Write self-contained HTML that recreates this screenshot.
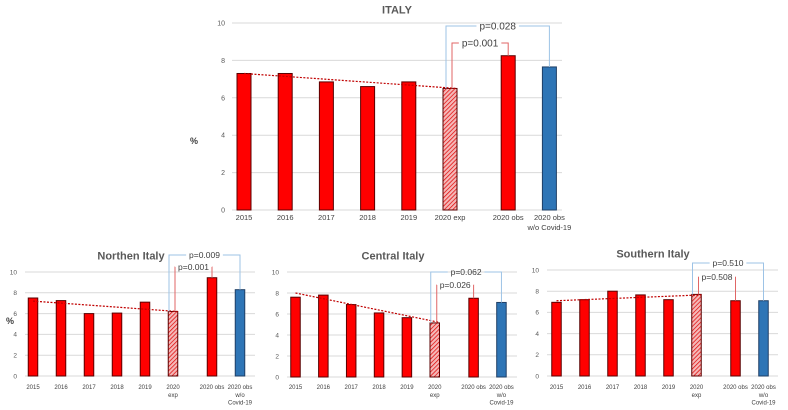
<!DOCTYPE html>
<html><head><meta charset="utf-8"><style>
html,body{margin:0;padding:0;background:#fff;}
svg{display:block;font-family:"Liberation Sans",sans-serif;}
</style></head><body>
<svg id="c" width="788" height="410" viewBox="0 0 788 410" xmlns="http://www.w3.org/2000/svg">
<defs>
<pattern id="hatch" width="3" height="3" patternUnits="userSpaceOnUse" patternTransform="rotate(45)">
<rect width="3" height="3" fill="#f4b8b8"/><line x1="0" y1="0" x2="0" y2="3" stroke="#e00000" stroke-width="1.4"/>
</pattern>
</defs>
</svg>
<script>
const categories = ["2015","2016","2017","2018","2019","2020 exp","2020 obs","2020 obs w/o Covid-19"];
const yTicks = [0,2,4,6,8,10];
const italyValues = [7.3,7.3,6.85,6.6,6.85,6.5,8.25,7.65];
const northValues = [7.5,7.25,6.0,6.05,7.1,6.2,9.45,8.3];
const centralValues = [7.6,7.8,6.9,6.1,5.65,5.15,7.5,7.1];
const southValues = [6.95,7.2,8.0,7.65,7.2,7.7,7.1,7.1];
const italyTrend = [7.3,6.5];
const northTrend = [7.2,6.2];
const centralTrend = [8.0,5.2];
const southTrend = [7.1,7.65];
const italyP = ["p=0.001","p=0.028"];
const northP = ["p=0.009","p=0.001"];
const centralP = ["p=0.062","p=0.026"];
const southP = ["p=0.510","p=0.508"];

const NS="http://www.w3.org/2000/svg";
const svg=document.getElementById('c');
function mk(tag,attrs,parent){const e=document.createElementNS(NS,tag);for(const k in attrs)e.setAttribute(k,attrs[k]);(parent||svg).appendChild(e);return e;}

const panels=[
 {key:'italy',title:'ITALY',values:italyValues,trend:italyTrend,p:italyP,y0:210,y10:23,gx0:232,gx1:562,first:244,step:41.2,gap:17,bw:14,tickX:225,tickFs:7,labFs:7.5,labY:220,titleX:397,titleY:9,titleFs:11,pct:[190,144],pFs:10,redY:43,blueY:26,big:true},
 {key:'north',title:'Northen Italy',values:northValues,trend:northTrend,p:northP,y0:376,y10:272,gx0:25,gx1:255,first:33,step:28,gap:11,bw:9.5,tickX:17,tickFs:6.5,labFs:6,labY:389,titleX:131,titleY:255,titleFs:11,pct:[6,324],pFs:8.5,redY:267,blueY:255,blueFirst:true},
 {key:'central',title:'Central Italy',values:centralValues,trend:centralTrend,p:centralP,y0:377,y10:272,gx0:287,gx1:517,first:295.5,step:27.85,gap:11,bw:9.5,tickX:279,tickFs:6.5,labFs:6,labY:389,titleX:393,titleY:255,titleFs:11,pFs:8.5,redY:285,blueY:272,blueFirst:true},
 {key:'south',title:'Southern Italy',values:southValues,trend:southTrend,p:southP,y0:376,y10:270,gx0:547,gx1:778,first:556.5,step:28,gap:11,bw:9.5,tickX:539,tickFs:6.5,labFs:6,labY:389,titleX:653,titleY:253,titleFs:11,pFs:8.5,redY:277,blueY:263,blueFirst:true}
];

panels.forEach(P=>{
 const g=mk('g',{});
 
 
 const yS=v=>P.y0-(P.y0-P.y10)*v/10;
 const xS=i=>P.first+i*P.step+(i>=6?P.gap:0);
 const t=mk('text',{x:P.titleX,y:P.titleY+P.titleFs*0.4,'text-anchor':'middle','font-size':P.titleFs,'font-weight':'bold',fill:'#595959'},g);
 t.textContent=P.title;
 
 
 if(P.pct){const pc=mk('text',{x:P.pct[0],y:P.pct[1],'font-size':9,fill:'#404040','font-weight':'bold'},g);pc.textContent='%';
  
  }
 yTicks.forEach(v=>{
  const y=yS(v);
  const l=mk('line',{x1:P.gx0,x2:P.gx1,y1:y,y2:y,stroke:'#d9d9d9','stroke-width':1},g);
  
  
  const tx=mk('text',{x:P.tickX,y:y+P.tickFs*0.35,'text-anchor':'end','font-size':P.tickFs,fill:'#595959'},g);
  tx.textContent=v;
  
  
 });
 P.values.forEach((v,i)=>{
  const x=xS(i),y=yS(v);
  const fill=i===5?'url(#hatch)':(i===7?'#2e75b6':'#ff0000');
  const r=mk('rect',{x:x-P.bw/2,y:y,width:P.bw,height:P.y0-y,fill:fill,stroke:i===7?'#1f3f66':'#5a0000','stroke-width':1},g);
  
  
  let lines;
  const c=categories[i];
  if(P.big){lines=i===7?['2020 obs','w/o Covid-19']:[c];}
  else{lines=i===5?['2020','exp']:(i===7?['2020 obs','w/o','Covid-19']:[c]);}
  const lt=mk('text',{x:x,y:P.labY,'text-anchor':'middle','font-size':P.labFs,fill:'#404040'},g);
  lines.forEach((s,k)=>{const ts=mk('tspan',{x:x,dy:k?P.labFs*1.3:0},lt);ts.textContent=s;});
  
  
 });
 const tl=mk('line',{x1:xS(0),y1:yS(P.trend[0]),x2:xS(5)+P.bw/2,y2:yS(P.trend[1]),stroke:'#c00000','stroke-width':1.2,'stroke-dasharray':'2,1.5'},g);
 
 
 const ex=xS(5), ey=yS(P.values[5]);
 function bracket(lbl,xa,xb,yTop,yb,col,name){
  const cx=(xa+xb)/2, w=lbl.length*P.pFs*0.55+4;
  const pl=mk('polyline',{points:`${xa},${ey} ${xa},${yTop} ${cx-w/2},${yTop}`,fill:'none',stroke:col,'stroke-width':1},g);
  const pr=mk('polyline',{points:`${cx+w/2},${yTop} ${xb},${yTop} ${xb},${yb}`,fill:'none',stroke:col,'stroke-width':1},g);
  
  
  const tt=mk('text',{x:cx,y:yTop+P.pFs*0.35,'text-anchor':'middle','font-size':P.pFs,fill:'#404040'},g);
  tt.textContent=lbl;
  
  
 }
 const redLbl=P.blueFirst?P.p[1]:P.p[0], blueLbl=P.blueFirst?P.p[0]:P.p[1];
 bracket(blueLbl,ex-4,xS(7),P.blueY,yS(P.values[7]),'#9dc3e6',P.key+'-pvalue-covid');
 bracket(redLbl,ex+2,xS(6),P.redY,yS(P.values[6]),'#e06666',P.key+'-pvalue-obs');
});
</script>
</body></html>
